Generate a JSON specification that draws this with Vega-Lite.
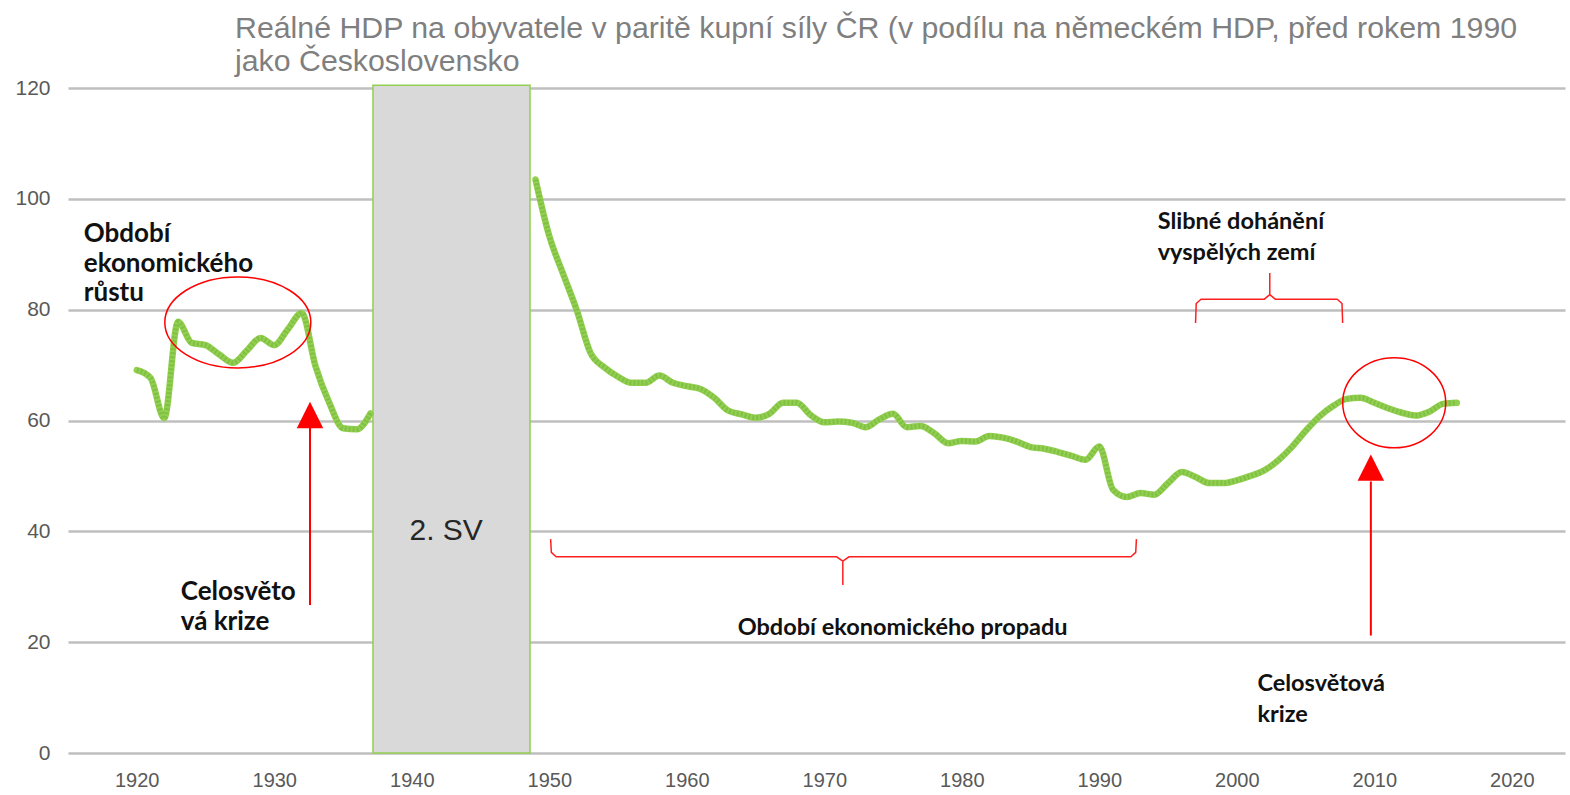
{
  "$schema": "https://vega.github.io/schema/vega-lite/v6.json",
  "width": 1497,
  "height": 665,
  "autosize": "none",
  "padding": {"left": 68, "top": 88, "right": 5, "bottom": 42},
  "background": "white",
  "config": {"view": {"stroke": null}, "font": "Liberation Sans"},
  "title": {
    "text": ["Reálné HDP na obyvatele v paritě kupní síly ČR (v podílu na německém HDP, před rokem 1990", "jako Československo"],
    "anchor": "start",
    "frame": "group",
    "dx": 167,
    "offset": 0,
    "font": "Liberation Sans",
    "fontSize": 30.3,
    "fontWeight": "normal",
    "color": "#7f7f7f",
    "lineHeight": 33
  },
  "datasets": {
    "series": [
      {"seg": "a", "year": 1920, "value": 69.1},
      {"seg": "a", "year": 1921, "value": 67.7},
      {"seg": "a", "year": 1922, "value": 60.4},
      {"seg": "a", "year": 1923, "value": 77.8},
      {"seg": "a", "year": 1924, "value": 74.0},
      {"seg": "a", "year": 1925, "value": 73.6},
      {"seg": "a", "year": 1926, "value": 71.9},
      {"seg": "a", "year": 1927, "value": 70.4},
      {"seg": "a", "year": 1928, "value": 72.6},
      {"seg": "a", "year": 1929, "value": 74.9},
      {"seg": "a", "year": 1930, "value": 73.6},
      {"seg": "a", "year": 1931, "value": 76.5},
      {"seg": "a", "year": 1932, "value": 79.4},
      {"seg": "a", "year": 1933, "value": 69.8},
      {"seg": "a", "year": 1934, "value": 63.2},
      {"seg": "a", "year": 1935, "value": 58.6},
      {"seg": "a", "year": 1936, "value": 58.4},
      {"seg": "a", "year": 1937, "value": 61.3},
      {"seg": "b", "year": 1949, "value": 103.5},
      {"seg": "b", "year": 1950, "value": 93.3},
      {"seg": "b", "year": 1951, "value": 86.5},
      {"seg": "b", "year": 1952, "value": 79.9},
      {"seg": "b", "year": 1953, "value": 72.2},
      {"seg": "b", "year": 1954, "value": 69.6},
      {"seg": "b", "year": 1955, "value": 67.9},
      {"seg": "b", "year": 1956, "value": 66.8},
      {"seg": "b", "year": 1957, "value": 66.8},
      {"seg": "b", "year": 1958, "value": 68.1},
      {"seg": "b", "year": 1959, "value": 66.8},
      {"seg": "b", "year": 1960, "value": 66.2},
      {"seg": "b", "year": 1961, "value": 65.7},
      {"seg": "b", "year": 1962, "value": 64.1},
      {"seg": "b", "year": 1963, "value": 61.8},
      {"seg": "b", "year": 1964, "value": 61.1},
      {"seg": "b", "year": 1965, "value": 60.5},
      {"seg": "b", "year": 1966, "value": 61.2},
      {"seg": "b", "year": 1967, "value": 63.2},
      {"seg": "b", "year": 1968, "value": 63.2},
      {"seg": "b", "year": 1969, "value": 61.0},
      {"seg": "b", "year": 1970, "value": 59.7},
      {"seg": "b", "year": 1971, "value": 59.8},
      {"seg": "b", "year": 1972, "value": 59.6},
      {"seg": "b", "year": 1973, "value": 58.8},
      {"seg": "b", "year": 1974, "value": 60.2},
      {"seg": "b", "year": 1975, "value": 61.2},
      {"seg": "b", "year": 1976, "value": 58.8},
      {"seg": "b", "year": 1977, "value": 59.0},
      {"seg": "b", "year": 1978, "value": 57.7},
      {"seg": "b", "year": 1979, "value": 55.9},
      {"seg": "b", "year": 1980, "value": 56.3},
      {"seg": "b", "year": 1981, "value": 56.2},
      {"seg": "b", "year": 1982, "value": 57.2},
      {"seg": "b", "year": 1983, "value": 56.9},
      {"seg": "b", "year": 1984, "value": 56.2},
      {"seg": "b", "year": 1985, "value": 55.2},
      {"seg": "b", "year": 1986, "value": 54.9},
      {"seg": "b", "year": 1987, "value": 54.3},
      {"seg": "b", "year": 1988, "value": 53.6},
      {"seg": "b", "year": 1989, "value": 52.9},
      {"seg": "b", "year": 1990, "value": 55.3},
      {"seg": "b", "year": 1991, "value": 47.5},
      {"seg": "b", "year": 1992, "value": 46.2},
      {"seg": "b", "year": 1993, "value": 46.9},
      {"seg": "b", "year": 1994, "value": 46.6},
      {"seg": "b", "year": 1995, "value": 48.7},
      {"seg": "b", "year": 1996, "value": 50.7},
      {"seg": "b", "year": 1997, "value": 49.8},
      {"seg": "b", "year": 1998, "value": 48.7},
      {"seg": "b", "year": 1999, "value": 48.7},
      {"seg": "b", "year": 2000, "value": 49.2},
      {"seg": "b", "year": 2001, "value": 50.0},
      {"seg": "b", "year": 2002, "value": 51.0},
      {"seg": "b", "year": 2003, "value": 52.8},
      {"seg": "b", "year": 2004, "value": 55.2},
      {"seg": "b", "year": 2005, "value": 58.1},
      {"seg": "b", "year": 2006, "value": 60.7},
      {"seg": "b", "year": 2007, "value": 62.6},
      {"seg": "b", "year": 2008, "value": 63.9},
      {"seg": "b", "year": 2009, "value": 64.1},
      {"seg": "b", "year": 2010, "value": 63.2},
      {"seg": "b", "year": 2011, "value": 62.2},
      {"seg": "b", "year": 2012, "value": 61.4},
      {"seg": "b", "year": 2013, "value": 60.9},
      {"seg": "b", "year": 2014, "value": 61.6},
      {"seg": "b", "year": 2015, "value": 63.0},
      {"seg": "b", "year": 2016, "value": 63.2}
    ],
    "wwii": [{"year": 1937.18, "year2": 1948.6, "value": 0, "value2": 120.5, "label": "2. SV", "ly": 1942.5, "lv": 40.0}],
    "notesLeft": [
      {"year": 1916.15, "value": 93.65, "label": "Období\nekonomického\nrůstu"},
      {"year": 1923.2, "value": 29.05, "label": "Celosvěto\nvá krize"}
    ],
    "notesRight": [
      {"year": 1994.25, "value": 95.8, "label": "Slibné dohánění\nvyspělých zemí"},
      {"year": 2001.5, "value": 12.45, "label": "Celosvětová\nkrize"}
    ],
    "centerNotes": [
      {"year": 1975.7, "value": 22.6, "label": "Období ekonomického propadu"}
    ],
    "arrows": [
      {"year": 1932.6, "value": 58.8, "value2": 26.7, "head": 61.0},
      {"year": 2009.75, "value": 49.0, "value2": 21.2, "head": 51.5}
    ],
    "ellipseA": [{"year": 1927.35, "value": 77.7}],
    "ellipseB": [{"year": 2011.45, "value": 63.2}],
    "braces": [
      {"brace": "low", "o": 1, "year": 1950.1, "value": 38.6},
      {"brace": "low", "o": 2, "year": 1950.15, "value": 36.2},
      {"brace": "low", "o": 3, "year": 1950.5, "value": 35.4},
      {"brace": "low", "o": 4, "year": 1970.9, "value": 35.4},
      {"brace": "low", "o": 5, "year": 1971.35, "value": 34.6},
      {"brace": "low", "o": 6, "year": 1971.35, "value": 30.3},
      {"brace": "low", "o": 7, "year": 1971.35, "value": 34.6},
      {"brace": "low", "o": 8, "year": 1971.8, "value": 35.4},
      {"brace": "low", "o": 9, "year": 1992.3, "value": 35.4},
      {"brace": "low", "o": 10, "year": 1992.65, "value": 36.2},
      {"brace": "low", "o": 11, "year": 1992.7, "value": 38.6},
      {"brace": "up", "o": 1, "year": 1997.0, "value": 77.6},
      {"brace": "up", "o": 2, "year": 1997.05, "value": 81.1},
      {"brace": "up", "o": 3, "year": 1997.4, "value": 81.9},
      {"brace": "up", "o": 4, "year": 2002.0, "value": 81.9},
      {"brace": "up", "o": 5, "year": 2002.4, "value": 82.7},
      {"brace": "up", "o": 6, "year": 2002.4, "value": 86.6},
      {"brace": "up", "o": 7, "year": 2002.4, "value": 82.7},
      {"brace": "up", "o": 8, "year": 2002.8, "value": 81.9},
      {"brace": "up", "o": 9, "year": 2007.3, "value": 81.9},
      {"brace": "up", "o": 10, "year": 2007.65, "value": 81.1},
      {"brace": "up", "o": 11, "year": 2007.7, "value": 77.6}
    ]
  },
  "encoding": {
    "x": {
      "field": "year",
      "type": "quantitative",
      "scale": {"domain": [1915, 2023.87], "nice": false, "zero": false},
      "axis": {
        "title": null,
        "values": [1920, 1930, 1940, 1950, 1960, 1970, 1980, 1990, 2000, 2010, 2020],
        "format": "d",
        "domain": false,
        "ticks": false,
        "grid": false,
        "labelPadding": 17,
        "labelFontSize": 20,
        "labelColor": "#595959",
        "labelFont": "Liberation Sans"
      }
    },
    "y": {
      "field": "value",
      "type": "quantitative",
      "scale": {"domain": [0, 120], "nice": false},
      "axis": {
        "title": null,
        "values": [0, 20, 40, 60, 80, 100, 120],
        "domain": false,
        "ticks": false,
        "grid": true,
        "gridColor": "#bfbfbf",
        "gridWidth": 2.5,
        "labelPadding": 18,
        "labelFontSize": 21,
        "labelColor": "#595959",
        "labelFont": "Liberation Sans"
      }
    }
  },
  "layer": [
    {
      "data": {"name": "wwii"},
      "mark": {"type": "rect", "fill": "#d9d9d9", "stroke": "#92d050", "strokeWidth": 1.5},
      "encoding": {"x2": {"field": "year2"}, "y2": {"field": "value2"}}
    },
    {
      "data": {"name": "wwii"},
      "mark": {"type": "text", "fontSize": 30, "font": "Liberation Sans", "color": "#262626", "align": "center", "baseline": "middle"},
      "encoding": {"x": {"field": "ly", "type": "quantitative"}, "y": {"field": "lv", "type": "quantitative"}, "text": {"field": "label"}}
    },
    {
      "data": {"name": "series"},
      "mark": {"type": "line", "interpolate": "monotone", "color": "#92d050", "strokeWidth": 6.5, "strokeJoin": "round", "strokeCap": "round"},
      "encoding": {"detail": {"field": "seg"}}
    },
    {
      "data": {"name": "series"},
      "mark": {"type": "line", "interpolate": "monotone", "color": "#5e9a2e", "strokeWidth": 5, "strokeDash": [2, 2], "opacity": 0.3},
      "encoding": {"detail": {"field": "seg"}}
    },
    {
      "data": {"name": "braces"},
      "mark": {"type": "line", "color": "#ff2020", "strokeWidth": 1.5},
      "encoding": {"detail": {"field": "brace"}, "order": {"field": "o", "type": "quantitative"}}
    },
    {
      "data": {"name": "arrows"},
      "mark": {"type": "rule", "color": "#ff0000", "strokeWidth": 2},
      "encoding": {"y2": {"field": "value2"}}
    },
    {
      "data": {"name": "arrows"},
      "mark": {"type": "point", "shape": "M0,-1L1,1L-1,1Z", "size": 700, "filled": true, "color": "#ff0000", "opacity": 1},
      "encoding": {"y": {"field": "head", "type": "quantitative"}}
    },
    {
      "data": {"name": "ellipseA"},
      "mark": {"type": "point", "shape": "M-1,0A1,0.623 0 1,0 1,0A1,0.623 0 1,0 -1,0", "size": 21316, "filled": false, "stroke": "#ff0000", "strokeWidth": 1.5, "opacity": 1}
    },
    {
      "data": {"name": "ellipseB"},
      "mark": {"type": "point", "shape": "M-1,0A1,0.874 0 1,0 1,0A1,0.874 0 1,0 -1,0", "size": 10609, "filled": false, "stroke": "#ff0000", "strokeWidth": 1.5, "opacity": 1}
    },
    {
      "data": {"name": "notesLeft"},
      "mark": {"type": "text", "align": "left", "baseline": "middle", "font": "Lato", "fontWeight": "bold", "fontSize": 26, "lineHeight": 29.5, "lineBreak": "\n", "color": "#111111"},
      "encoding": {"text": {"field": "label"}}
    },
    {
      "data": {"name": "notesRight"},
      "mark": {"type": "text", "align": "left", "baseline": "middle", "font": "Lato", "fontWeight": "bold", "fontSize": 23.5, "lineHeight": 30.5, "lineBreak": "\n", "color": "#111111"},
      "encoding": {"text": {"field": "label"}}
    },
    {
      "data": {"name": "centerNotes"},
      "mark": {"type": "text", "align": "center", "baseline": "middle", "font": "Lato", "fontWeight": "bold", "fontSize": 23.5, "color": "#111111"},
      "encoding": {"text": {"field": "label"}}
    }
  ]
}
